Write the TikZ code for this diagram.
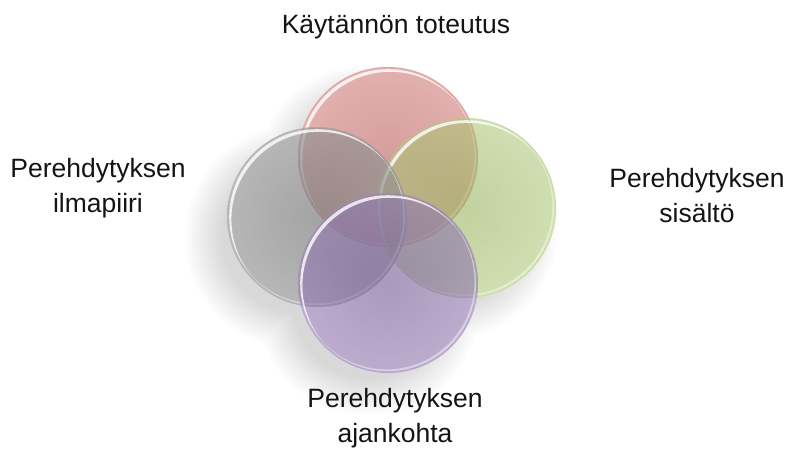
\documentclass[tikz,border=0pt]{standalone}
\usepackage{fontspec}
\setmainfont{Liberation Sans}
\definecolor{bubRed}{HTML}{C0504D}
\definecolor{bubGreen}{HTML}{9BBB59}
\definecolor{bubGray}{HTML}{7F7F7F}
\definecolor{bubViolet}{HTML}{8064A2}
\begin{document}
\begin{tikzpicture}[x=1pt,y=-1pt,
  caption/.style={font=\fontsize{26.5}{35}\selectfont, align=center,
    anchor=base, inner sep=0pt, text=black!92},
  shadowlayer/.style={black, opacity=0.012}]
\useasboundingbox (0,0) rectangle (787,448);

% centres of the four bubbles
\coordinate (cR) at (388,157);
\coordinate (cG) at (466,208);
\coordinate (cK) at (317,217);
\coordinate (cP) at (388,283);

% soft drop shadow of the whole group, down and to the left
\foreach \k in {-14,-11,...,22} {
  \pgfmathsetmacro\rr{90+\k}
  \fill[shadowlayer]
    ([shift={(-20,20)}]cR) circle (\rr pt)
    ([shift={(-20,20)}]cG) circle (\rr pt)
    ([shift={(-20,20)}]cK) circle (\rr pt)
    ([shift={(-20,20)}]cP) circle (\rr pt);
}
% keep the shadow from showing through the bubbles
\fill[white] (cR) circle (90pt) (cG) circle (90pt) (cK) circle (90pt) (cP) circle (90pt);

% one glassy bubble: #1 centre, #2 colour, #3 opacity
\newcommand\glassbubble[3]{%
  \shade[inner color=#2!92!black, outer color=#2!85!white, opacity=#3]
    (#1) circle (90pt);
  \draw[#2!60!white, line width=0.6pt, opacity=0.5] (#1) circle (89.6pt);
  \begin{scope}
    \clip (#1) circle (87.8pt);
    \fill[white, opacity=0.8, even odd rule]
      (#1) circle (87.8pt) ([shift={(2.2,2.6)}]#1) circle (87.8pt);
  \end{scope}
  \begin{scope}
    \clip (#1) circle (88pt);
    \fill[white, opacity=0.4, even odd rule]
      (#1) circle (88pt) ([shift={(-1.6,-1.6)}]#1) circle (88pt);
  \end{scope}
}

\glassbubble{cR}{bubRed}{0.53}
\glassbubble{cG}{bubGreen}{0.55}
\glassbubble{cK}{bubGray}{0.66}
\glassbubble{cP}{bubViolet}{0.62}

% captions (anchored at the baseline of their last line)
\node[caption] (tTop) at (396,33) {Käytännön toteutus};
\node[caption] (tLeft) at (98,212) {Perehdytyksen\\ilmapiiri};
\node[caption] (tRight) at (697,222) {Perehdytyksen\\sisältö};
\node[caption] (tBottom) at (395,442) {Perehdytyksen\\ajankohta};
\end{tikzpicture}
\end{document}
